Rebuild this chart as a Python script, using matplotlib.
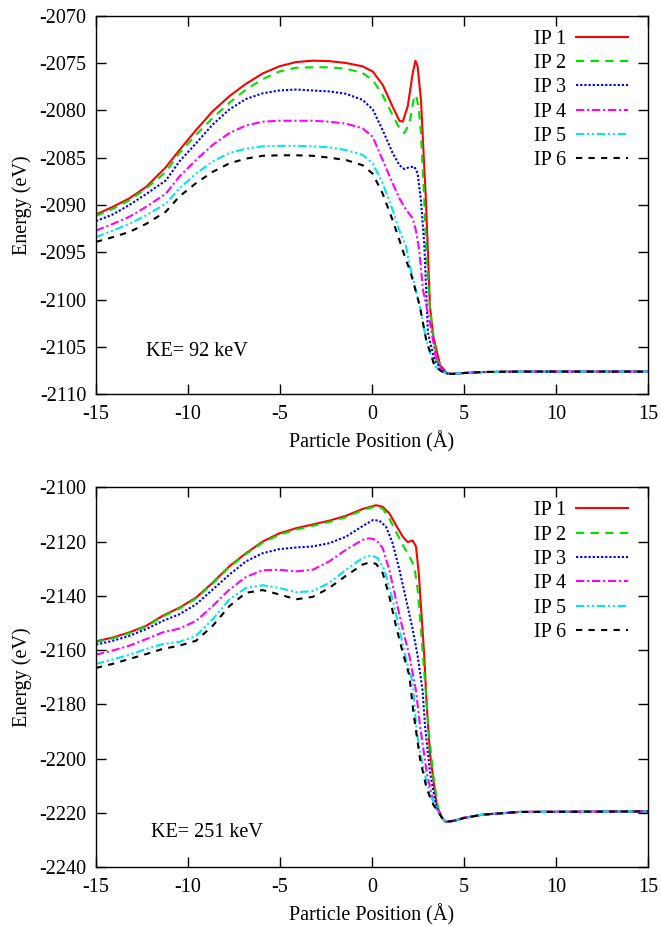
import matplotlib
matplotlib.use("Agg")
import matplotlib.pyplot as plt

plt.rcParams['font.family'] = ['Liberation Serif', 'DejaVu Serif']
plt.rcParams['lines.scale_dashes'] = False
plt.rcParams['axes.unicode_minus'] = False

labels = ["IP 1", "IP 2", "IP 3", "IP 4", "IP 5", "IP 6"]
colors = ["#ff0000", "#00e000", "#0000ff", "#ff00ff", "#00e5ee", "#000000"]
styles = ["-", (0, (6, 4.5)), (0, (1.6, 1.4)), (0, (6, 2, 1.5, 2)),
          (0, (6, 2, 1.5, 2, 1.5, 2)), (0, (4.5, 4.5))]

# common sampling positions on the smooth left part (Å)
left_x = [-15, -14.09, -13.19, -12.28, -11.2, -10.47, -9.57, -8.66, -7.75, -6.85, -5.94,
          -5.04, -4.13, -3.22, -2.32, -1.41, -0.51, 0.04, 0.58, 1.12]

# ---------------- Top panel: KE = 92 keV ----------------
top_x_ip1 = left_x + [1.49, 1.67, 1.94, 2.21, 2.36, 2.48, 2.66, 2.84, 2.93, 3.15, 3.33, 3.7,
                      4.06, 4.3, 5, 6, 8, 15]
top_e_ip1 = [-2091.0, -2090.2, -2089.3, -2088.1, -2086.0, -2084.2, -2082.1, -2080.1, -2078.5,
             -2077.2, -2076.1, -2075.35, -2074.9, -2074.75, -2074.8, -2075.0, -2075.35,
             -2075.9, -2077.3, -2079.6,
             -2081.1, -2081.2, -2079.6, -2076.1, -2074.75, -2075.35, -2078.9, -2086.0,
             -2089.5, -2100.7, -2103.9, -2106.9, -2107.75, -2107.85, -2107.75, -2107.65,
             -2107.6, -2107.6]

top_x_ip2 = left_x + [1.49, 1.76, 2.03, 2.3, 2.39, 2.53, 2.66, 2.84, 2.97, 3.15, 3.5, 3.8,
                      4.06, 4.3, 5, 6, 8, 15]
top_e_ip2 = [-2091.15, -2090.4, -2089.5, -2088.25, -2086.5, -2084.5, -2082.6, -2080.8,
             -2079.2, -2077.8, -2076.7, -2075.9, -2075.5, -2075.45, -2075.45, -2075.6,
             -2076.05, -2076.8, -2078.4, -2080.5,
             -2081.9, -2082.4, -2081.4, -2078.5, -2078.4, -2079.6, -2082.4, -2089.5,
             -2095.8, -2101.1, -2106.2, -2107.3, -2107.75, -2107.85, -2107.75, -2107.65,
             -2107.6, -2107.6]

top_x_ip3 = left_x + [1.49, 1.76, 2.03, 2.3, 2.48, 2.66, 2.84, 3.04, 3.4, 3.8, 4.06, 4.3, 5,
                      6, 8, 15]
top_e_ip3 = [-2091.7, -2091.0, -2090.0, -2088.85, -2087.4, -2085.4, -2083.5, -2081.5,
             -2079.9, -2078.8, -2078.2, -2077.9, -2077.8, -2077.9, -2078.0, -2078.25,
             -2078.9, -2079.9, -2082.1, -2084.5,
             -2085.8, -2086.2, -2086.0, -2085.95, -2086.65, -2089.5, -2094.1, -2103.5,
             -2106.4, -2107.4, -2107.8, -2107.85, -2107.75, -2107.65, -2107.6, -2107.6]

top_x_ip4 = left_x + [1.49, 1.85, 2.21, 2.39, 2.57, 2.77, 3.15, 3.5, 3.8, 4.06, 4.3, 5, 6, 8,
                      15]
top_e_ip4 = [-2092.7, -2092.0, -2091.25, -2090.2, -2088.8, -2087.0, -2085.25, -2083.65,
             -2082.4, -2081.6, -2081.2, -2081.1, -2081.1, -2081.1, -2081.2, -2081.4,
             -2081.9, -2082.8, -2085.25, -2087.7,
             -2089.3, -2090.5, -2091.4, -2092.7, -2094.8, -2099.0, -2102.4, -2106.4,
             -2107.4, -2107.8, -2107.85, -2107.75, -2107.65, -2107.6, -2107.6]

top_x_ip5 = left_x + [1.49, 1.85, 2.07, 2.6, 2.95, 3.4, 3.8, 4.06, 4.3, 5, 6, 8, 15]
top_e_ip5 = [-2093.4, -2092.7, -2092.0, -2091.1, -2089.85, -2088.25, -2086.7, -2085.4,
             -2084.5, -2084.05, -2083.8, -2083.75, -2083.75, -2083.8, -2083.9, -2084.2,
             -2084.7, -2085.6, -2087.7, -2090.5,
             -2092.7, -2094.4, -2096.5, -2100.7, -2104.3, -2107.0, -2107.6, -2107.8,
             -2107.85, -2107.75, -2107.65, -2107.6, -2107.6]

top_x_ip6 = left_x + [1.49, 1.85, 2.07, 2.6, 2.95, 3.4, 3.8, 4.06, 4.3, 5, 6, 8, 15]
top_e_ip6 = [-2093.9, -2093.4, -2092.85, -2092.0, -2090.7, -2089.1, -2087.7, -2086.5,
             -2085.6, -2085.1, -2084.8, -2084.75, -2084.75, -2084.8, -2085.0, -2085.25,
             -2085.8, -2086.7, -2088.8, -2091.6,
             -2093.7, -2095.85, -2096.9, -2100.7, -2104.3, -2107.0, -2107.6, -2107.8,
             -2107.85, -2107.75, -2107.65, -2107.6, -2107.6]

# ---------------- Bottom panel: KE = 251 keV ----------------
bot_left_x = [-15, -14.09, -13.19, -12.28, -11.38, -10.47, -9.57, -8.66, -7.75, -6.85, -5.94,
              -5.04, -4.13, -3.22, -2.32, -1.41, -0.51]

bot_x_ip1 = bot_left_x + [0.22, 0.58, 0.94, 1.30, 1.67, 1.94, 2.21, 2.39, 2.54, 2.66, 2.84,
                          2.97, 3.15, 3.33, 3.52, 3.8, 4.0, 4.5, 5, 6, 7, 8, 15]
bot_e_ip1 = [-2156.8, -2155.4, -2153.5, -2151.1, -2147.4, -2144.4, -2140.7, -2135.2,
             -2129.1, -2124.3, -2120.0, -2117.0, -2115.1, -2113.7, -2112.3, -2110.5, -2108.0,
             -2106.6, -2107.2, -2109.6, -2113.9, -2118.2, -2120.2, -2119.6, -2121.8, -2131.6,
             -2143.8, -2162.1, -2180.0, -2198.0, -2207.4, -2217.2, -2221.8, -2223.4, -2222.9,
             -2221.9, -2220.7, -2220.2, -2219.7, -2219.5]

bot_x_ip2 = bot_left_x + [0.22, 0.58, 0.94, 1.30, 1.67, 2.03, 2.30, 2.48, 2.66, 2.84, 3.06,
                          3.33, 3.6, 3.8, 4.0, 4.5, 5, 6, 7, 8, 15]
bot_e_ip2 = [-2157.1, -2155.7, -2153.8, -2151.4, -2147.7, -2144.7, -2141.0, -2135.5,
             -2129.4, -2124.6, -2120.4, -2117.5, -2115.6, -2114.2, -2112.8, -2111.0, -2108.4,
             -2107.0, -2107.8, -2111.5, -2116.3, -2121.2, -2125.5, -2129.1, -2137.7, -2152.3,
             -2168.2, -2187.9, -2206.2, -2218.5, -2221.8, -2223.4, -2222.9, -2221.9, -2220.7,
             -2220.2, -2219.7, -2219.5]

bot_x_ip3 = bot_left_x + [0.04, 0.40, 0.76, 1.12, 1.49, 1.85, 2.21, 2.48, 2.75, 2.88, 3.15,
                          3.5, 3.8, 4.0, 4.5, 5, 6, 7, 8, 15]
bot_e_ip3 = [-2158.0, -2156.6, -2154.8, -2152.3, -2149.3, -2146.8, -2143.2, -2137.7,
             -2132.2, -2127.3, -2124.3, -2122.8, -2122.2, -2121.8, -2120.6, -2118.2, -2114.3,
             -2112.1, -2112.3, -2114.5, -2120.6, -2130.4, -2141.3, -2152.3, -2162.1, -2175.0,
             -2187.9, -2205.0, -2218.0, -2221.8, -2223.4, -2222.9, -2221.9, -2220.7, -2220.2,
             -2219.7, -2219.5]

bot_x_ip4 = bot_left_x + [-0.14, 0.22, 0.58, 0.94, 1.30, 1.67, 2.03, 2.39, 2.61, 2.97, 3.33,
                          3.8, 4.0, 4.5, 5, 6, 7, 8, 15]
bot_e_ip4 = [-2161.7, -2160.2, -2158.4, -2156.0, -2153.5, -2152.1, -2149.3, -2143.8,
             -2137.7, -2133.05, -2130.6, -2130.4, -2131.0, -2130.4, -2127.3, -2123.0, -2119.4,
             -2118.8, -2119.4, -2122.4, -2130.4, -2141.3, -2152.3, -2162.1, -2175.0, -2187.9,
             -2205.0, -2216.0, -2221.8, -2223.4, -2222.9, -2221.9, -2220.7, -2220.2, -2219.7,
             -2219.5]

bot_x_ip5 = bot_left_x + [-0.05, 0.31, 0.67, 1.12, 1.49, 1.85, 2.21, 2.43, 2.79, 3.15, 3.5,
                          3.8, 4.0, 4.5, 5, 6, 7, 8, 15]
bot_e_ip5 = [-2165.1, -2163.5, -2161.8, -2159.6, -2157.8, -2157.0, -2154.8, -2148.7,
             -2141.3, -2137.1, -2136.1, -2137.1, -2138.7, -2138.3, -2135.2, -2130.4, -2126.1,
             -2125.1, -2126.1, -2130.4, -2141.3, -2152.3, -2163.3, -2171.8, -2190.3, -2203.7,
             -2213.0, -2218.5, -2221.8, -2223.4, -2222.9, -2221.9, -2220.7, -2220.2, -2219.7,
             -2219.5]

bot_x_ip6 = bot_left_x + [-0.14, 0.22, 0.58, 0.94, 1.30, 1.67, 2.03, 2.25, 2.61, 2.97, 3.33,
                          3.8, 4.0, 4.5, 5, 6, 7, 8, 15]
bot_e_ip6 = [-2166.6, -2165.1, -2163.3, -2161.5, -2159.6, -2158.4, -2156.6, -2151.1,
             -2143.8, -2138.9, -2137.9, -2139.5, -2141.3, -2140.4, -2137.1, -2132.6, -2128.5,
             -2127.7, -2128.2, -2131.6, -2140.1, -2151.1, -2160.9, -2169.4, -2182.9, -2200.1,
             -2211.1, -2217.0, -2221.8, -2223.4, -2222.9, -2221.9, -2220.7, -2220.2, -2219.7,
             -2219.5]

x_ticks = [-15, -10, -5, 0, 5, 10, 15]
top_y_ticks = [-2110, -2105, -2100, -2095, -2090, -2085, -2080, -2075, -2070]
bot_y_ticks = [-2240, -2220, -2200, -2180, -2160, -2140, -2120, -2100]

top_series = [(top_x_ip1, top_e_ip1), (top_x_ip2, top_e_ip2), (top_x_ip3, top_e_ip3),
              (top_x_ip4, top_e_ip4), (top_x_ip5, top_e_ip5), (top_x_ip6, top_e_ip6)]
bot_series = [(bot_x_ip1, bot_e_ip1), (bot_x_ip2, bot_e_ip2), (bot_x_ip3, bot_e_ip3),
              (bot_x_ip4, bot_e_ip4), (bot_x_ip5, bot_e_ip5), (bot_x_ip6, bot_e_ip6)]

W, H = 661, 926
fig = plt.figure(figsize=(W / 100, H / 100), dpi=100)

def make_axes(top_px, bottom_px):
    left, right = 96, 648
    return fig.add_axes([left / W, 1 - bottom_px / H, (right - left) / W, (bottom_px - top_px) / H])

ax1 = make_axes(15.7, 394.3)
ax2 = make_axes(487.3, 867.0)

FS = 14.5

def style_axes(ax, series, yticks, ylim, ke_text, ke_pos):
    for (xs, es), lab, c, ls in zip(series, labels, colors, styles):
        ax.plot(xs, es, color=c, linestyle=ls, linewidth=1.5, label=lab)
    ax.set_xlim(-15, 15)
    ax.set_ylim(*ylim)
    ax.set_xticks(x_ticks)
    ax.set_yticks(yticks)
    ax.tick_params(direction='in', top=True, right=True, length=7, width=1,
                   labelsize=FS, pad=7)
    ax.tick_params(axis='x', pad=8)
    for sp in ax.spines.values():
        sp.set_linewidth(1)
    ax.set_xlabel("Particle Position (Å)", fontsize=FS, labelpad=5)
    ax.set_ylabel("Energy (eV)", fontsize=FS, labelpad=5)
    ax.text(ke_pos[0], ke_pos[1], ke_text, fontsize=FS, ha='left', va='center')
    ax.legend(loc='upper right', bbox_to_anchor=(0.964, 0.963), frameon=False,
              markerfirst=False, fontsize=FS, handlelength=2.6, handletextpad=0.5,
              labelspacing=0.26, borderpad=0, borderaxespad=0)

style_axes(ax1, top_series, top_y_ticks, (-2110, -2070), "KE= 92 keV", (-12.3, -2105.5))
style_axes(ax2, bot_series, bot_y_ticks, (-2240, -2100), "KE= 251 keV", (-12.0, -2227.1))

fig.savefig("out.png", dpi=100)
